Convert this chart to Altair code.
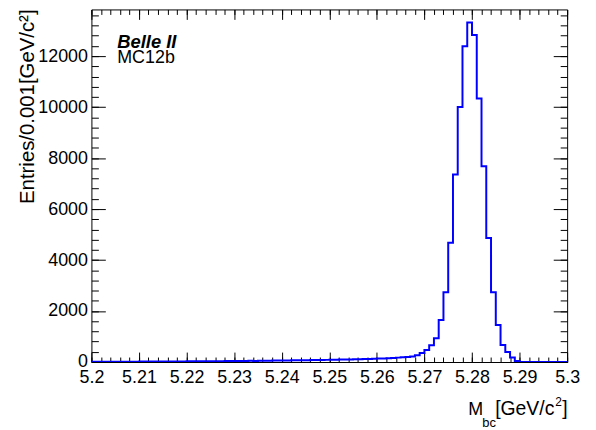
import altair as alt
import pandas as pd

# ---------------- data ----------------
x_start = 5.2
bin_width = 0.001
counts = [
    8, 10, 9, 12, 11, 13, 12, 14, 15, 14,
    16, 18, 17, 19, 20, 21, 22, 21, 24, 25,
    26, 28, 27, 30, 31, 33, 32, 35, 36, 38,
    40, 41, 43, 45, 44, 48, 50, 52, 55, 57,
    60, 62, 65, 67, 70, 72, 75, 78, 80, 84,
    88, 90, 95, 98, 102, 106, 110, 115, 120, 128,
    135, 142, 150, 160, 172, 185, 200, 215, 265, 350,
    475, 660, 935, 1650, 2740, 4680, 7360, 10000, 12390, 13320,
    12830, 10340, 7675, 4860, 2740, 1450, 665, 395, 175, 40,
    5, 0, 0, 0, 0, 0, 0, 0, 0, 0,
]
x_major = [5.2, 5.21, 5.22, 5.23, 5.24, 5.25, 5.26, 5.27, 5.28, 5.29, 5.3]
y_major = [0, 2000, 4000, 6000, 8000, 10000, 12000]
x_minor = [round(5.2 + 0.002 * i, 3) for i in range(51)]
y_minor = [400 * i for i in range(35)]

label_experiment = "Belle II"
label_sample = "MC12b"
y_title = "Entries/0.001[GeV/c²]"
x_title_main = "M"
x_title_sub = "bc"
x_title_unit = "[GeV/c"
x_title_sup = "2"
x_title_close = "]"

edges = [round(x_start + bin_width * i, 3) for i in range(len(counts) + 1)]
df = pd.DataFrame({"x": edges, "y": counts + [counts[-1]]})

# ---------------- chart ----------------
W, H = 479, 355
FONT = "Liberation Sans"
xscale = alt.Scale(domain=[5.2, 5.3], nice=False, zero=False)
yscale = alt.Scale(domain=[0, 13830], nice=False, zero=True)


def layer(xaxis, yaxis, visible=False):
    mk = alt.Chart(df).mark_line(
        interpolate="step-after", color="#0000ff", strokeWidth=2,
        opacity=1 if visible else 0, clip=True,
    )
    return mk.encode(
        x=alt.X("x:Q", scale=xscale, axis=xaxis),
        y=alt.Y("y:Q", scale=yscale, axis=yaxis),
    )


def tick_axis(orient, values, size):
    return alt.Axis(
        orient=orient, values=values, labels=False, ticks=True, tickSize=size,
        offset=-size, tickColor="black", tickWidth=1, grid=False, domain=False,
        title=None,
    )


lab_x = alt.Axis(
    orient="bottom", values=x_major, format=".3~g", ticks=False, labelPadding=7,
    labelFontSize=18, labelFont=FONT, labelColor="black", labelFlush=False,
    labelOverlap=False, grid=False, domain=False, title=None,
)
lab_y = alt.Axis(
    orient="left", values=y_major, format="d", ticks=False, labelPadding=4,
    labelFontSize=18, labelFont=FONT, labelColor="black", labelFlush=False,
    labelOverlap=False, grid=False, domain=False, title=None,
)

layers = [
    layer(lab_x, lab_y, visible=True),
    layer(tick_axis("bottom", x_major, 10), tick_axis("left", y_major, 14)),
    layer(tick_axis("bottom", x_minor, 5), tick_axis("left", y_minor, 7)),
    layer(tick_axis("top", x_major, 10), tick_axis("right", y_major, 14)),
    layer(tick_axis("top", x_minor, 5), tick_axis("right", y_minor, 7)),
]

one = pd.DataFrame({"a": [0]})


def text(t, x, y, size=18, align="left", **kw):
    return alt.Chart(one).mark_text(
        text=t, font=FONT, fontSize=size, align=align, baseline="alphabetic",
        color="black", **kw
    ).encode(x=alt.value(x), y=alt.value(y))


layers += [
    text(label_experiment, 26, 39, size=18.5, fontWeight="bold", fontStyle="italic"),
    text(label_sample, 26, 54),
    text(x_title_main, 379.5, 408),
    text(x_title_sub, 393.5, 420, size=13),
    text(x_title_unit, 406.5, 408, size=19.5),
    text(x_title_sup, 467, 399, size=12),
    text(x_title_close, 479.5, 408, size=19.5, align="right"),
    text(y_title, -58, 0, size=20.5, align="right", angle=270),
]

chart = alt.layer(*layers).resolve_axis(x="independent", y="independent").properties(
    width=W, height=H,
    autosize=alt.AutoSizeParams(type="none"),
    padding={"left": 84, "top": 0, "right": 21, "bottom": 67},
).configure_view(stroke="black", strokeWidth=1)

chart.save("out.html", embed_options={"renderer": "svg", "actions": False})
